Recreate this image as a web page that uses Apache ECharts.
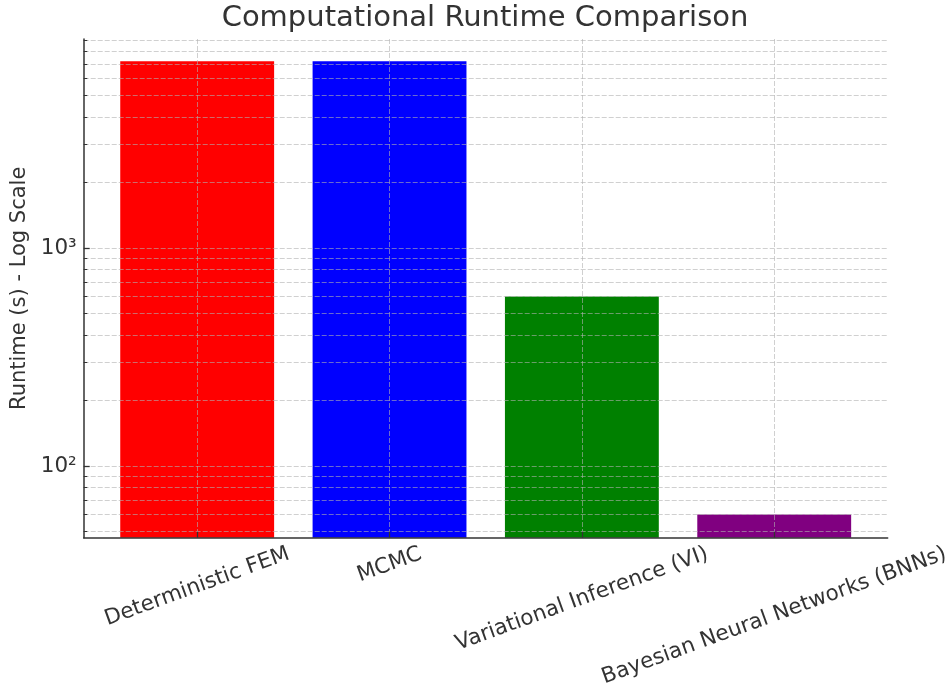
<!DOCTYPE html>
<html>
<head>
<meta charset="utf-8">
<script src="https://cdn.jsdelivr.net/npm/echarts@6/dist/echarts.min.js"></script>
<style>html,body{margin:0;padding:0;background:#fff}#c{width:948px;height:688px}</style>
</head>
<body>
<div id="c"></div>
<script>
// ---- data ----
const categories = ['Deterministic FEM', 'MCMC', 'Variational Inference (VI)', 'Bayesian Neural Networks (BNNs)'];
const runtimes = [7200, 7200, 600, 60];
const barColors = ['#ff0000', '#0000ff', '#008000', '#800080'];
const majorTicks = [100, 1000];
const majorTickLabels = ['10²', '10³'];
const minorTicks = [50, 60, 70, 80, 90, 200, 300, 400, 500, 600, 700, 800, 900,
                    2000, 3000, 4000, 5000, 6000, 7000, 8000, 9000];
const categoryIndex = [0, 1, 2, 3];
const yMin = 46.9, yMax = 9100;
const xMin = -0.59, xMax = 3.59;

// ---- style ----
const FONT = 'DejaVu Sans';
const TEXT = '#333333';
const LABEL_SIZE = 21.5;
const ANG = 20 * Math.PI / 180;
const gridLine = { color: 'rgba(176,176,176,0.6)', width: 1, type: [5, 2] };

const ctx = document.createElement('canvas').getContext('2d');
ctx.font = LABEL_SIZE + 'px "' + FONT + '"';
const rich = {};
categories.forEach((c, i) => {
  const w = ctx.measureText(c).width;
  rich['l' + i] = {
    fontFamily: FONT, fontSize: LABEL_SIZE, color: TEXT,
    padding: [w * Math.sin(ANG) * Math.cos(ANG), w * Math.sin(ANG) * Math.sin(ANG), 0, 0]
  };
});

const chart = echarts.init(document.getElementById('c'), null, { renderer: 'canvas' });
chart.setOption({
  animation: false,
  backgroundColor: '#ffffff',
  title: {
    text: 'Computational Runtime Comparison',
    left: 485, top: 4, textAlign: 'center', padding: 0,
    textStyle: { fontFamily: FONT, fontSize: 29, fontWeight: 'normal', color: TEXT }
  },
  grid: { left: 83.7, right: 60.3, top: 39, bottom: 150.3, outerBoundsMode: 'none', containLabel: false },
  xAxis: {
    type: 'value', min: xMin, max: xMax, z: 3,
    axisLine: { show: true, onZero: false, lineStyle: { color: TEXT, width: 1.5 } },
    axisTick: { show: true, inside: true, length: 6, customValues: categoryIndex, lineStyle: { color: TEXT, width: 1.3 } },
    axisLabel: {
      customValues: categoryIndex, rotate: 20, align: 'center', verticalAlign: 'middle', margin: 15.6,
      fontFamily: FONT, fontSize: LABEL_SIZE, color: TEXT, rich: rich,
      formatter: (v) => '{l' + v + '|' + categories[v] + '}'
    },
    splitLine: { show: true, lineStyle: gridLine }
  },
  yAxis: [
    {
      type: 'log', min: yMin, max: yMax, position: 'left', z: 3,
      name: 'Runtime (s) - Log Scale', nameLocation: 'middle', nameGap: 53,
      nameTextStyle: { fontFamily: FONT, fontSize: 21, color: TEXT },
      axisLine: { show: true, onZero: false, lineStyle: { color: TEXT, width: 1.5 } },
      axisTick: { show: true, inside: true, length: 6, customValues: majorTicks, lineStyle: { color: TEXT, width: 1.3 } },
      axisLabel: {
        customValues: majorTicks, margin: 7,
        fontFamily: FONT, fontSize: 21.5, color: TEXT,
        formatter: (v) => majorTickLabels[majorTicks.indexOf(Math.round(v))]
      },
      splitLine: { show: true, lineStyle: gridLine }
    },
    {
      type: 'log', min: yMin, max: yMax, position: 'left', z: 3,
      axisLine: { show: false, onZero: false },
      axisTick: { show: true, inside: true, length: 3.6, customValues: minorTicks, lineStyle: { color: TEXT, width: 1 } },
      axisLabel: { show: false },
      splitLine: { show: true, lineStyle: gridLine }
    }
  ],
  series: [{
    type: 'bar',
    xAxisIndex: 0, yAxisIndex: 0,
    barWidth: '80%',
    clip: true,
    data: categories.map((c, i) => ({ value: [categoryIndex[i], runtimes[i]], itemStyle: { color: barColors[i] } }))
  }]
});
</script>
</body>
</html>
